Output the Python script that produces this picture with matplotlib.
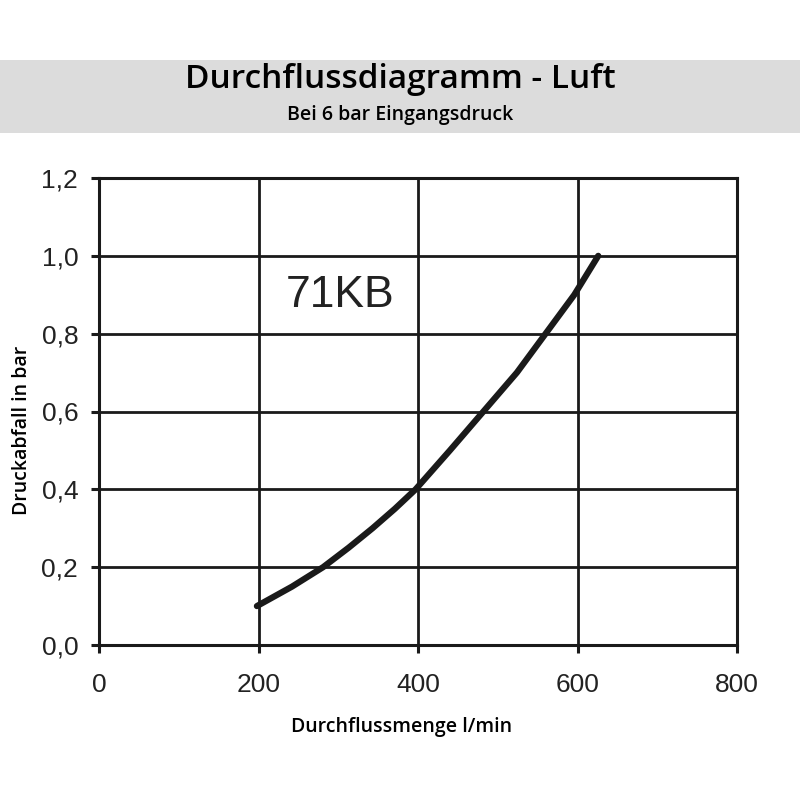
import matplotlib
matplotlib.use("Agg")
import matplotlib.pyplot as plt
from matplotlib.patches import Rectangle

# Data
flow = [198, 242, 281, 313, 343, 371, 397, 440, 482, 524, 560, 596, 626]
drop = [0.10, 0.15, 0.20, 0.25, 0.30, 0.35, 0.40, 0.50, 0.60, 0.70, 0.80, 0.90, 1.00]
x_ticks = [0, 200, 400, 600, 800]
y_ticks = [0.0, 0.2, 0.4, 0.6, 0.8, 1.0, 1.2]
y_tick_labels = ["0,0", "0,2", "0,4", "0,6", "0,8", "1,0", "1,2"]
title = "Durchflussdiagramm - Luft"
subtitle = "Bei 6 bar Eingangsdruck"
xlabel = "Durchflussmenge l/min"
ylabel = "Druckabfall in bar"
series_label = "71KB"

ink = "#1a1a1a"
fig = plt.figure(figsize=(8, 8), dpi=100)
fig.patch.set_facecolor("white")

# Title band
fig.patches.append(Rectangle((0, 1 - 133 / 800), 1, 73 / 800, transform=fig.transFigure,
                             facecolor="#dcdcdc", edgecolor="none", zorder=0))
fig.text(0.5, 1 - 80 / 800, title, ha="center", va="center", fontsize=24,
         family="Open Sans", weight="semibold", color="black")
fig.text(0.5, 1 - 115 / 800, subtitle, ha="center", va="center", fontsize=14,
         family="Open Sans", weight="semibold", color="black")

ax = fig.add_axes([99 / 800, 1 - 645 / 800, (737 - 99) / 800, (645 - 178) / 800])
ax.plot(flow, drop, color=ink, lw=4.5, solid_capstyle="round",
        solid_joinstyle="round", zorder=3)
ax.set_xlim(0, 800)
ax.set_ylim(0, 1.2)
ax.set_xticks(x_ticks)
ax.set_yticks(y_ticks)
ax.set_yticklabels(y_tick_labels)
ax.grid(True, color=ink, lw=2.0)
for s in ax.spines.values():
    s.set_color(ink)
    s.set_linewidth(2.2)
ax.tick_params(axis="both", direction="out", length=6, width=2.2, color=ink,
               labelsize=19, labelcolor="#222222")
ax.tick_params(axis="x", pad=14)
ax.tick_params(axis="y", pad=9)
for lab in ax.get_xticklabels() + ax.get_yticklabels():
    lab.set_family("Liberation Sans")

ax.text(302, 0.897, series_label, ha="center", va="center", fontsize=32,
        family="Liberation Sans", color="#222222")

fig.text(402 / 800, 1 - 727 / 800, xlabel, ha="center", va="center", fontsize=14,
         family="Open Sans", weight="semibold", color="black")
fig.text(22 / 800, 1 - 430 / 800, ylabel, ha="center", va="center", fontsize=14,
         family="Open Sans", weight="semibold", color="black", rotation=90)

fig.savefig("out.png", dpi=100, facecolor="white")
